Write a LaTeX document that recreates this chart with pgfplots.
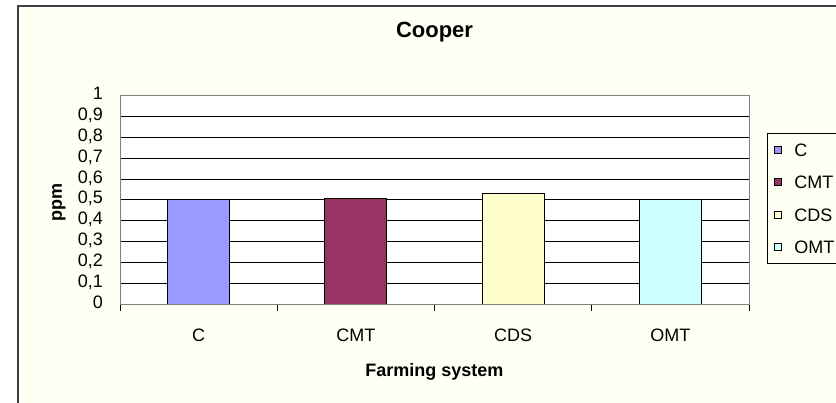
\documentclass[border=0pt]{standalone}
\usepackage{pgfplots}
\pgfplotsset{compat=1.18}
\usepackage{fontspec}
\setmainfont{Liberation Sans}
\definecolor{bg}{RGB}{255,255,244}
\definecolor{cC}{RGB}{153,153,255}
\definecolor{cCMT}{RGB}{153,51,102}
\definecolor{cCDS}{RGB}{255,255,204}
\definecolor{cOMT}{RGB}{204,255,255}
\definecolor{frame}{RGB}{64,64,64}
\begin{document}
\begin{tikzpicture}
\path[use as bounding box] (0,0) rectangle (836bp,403bp);
\clip (0,0) rectangle (836bp,403bp);
\fill[white] (0,0) rectangle (836bp,403bp);
\filldraw[fill=bg, draw=frame, line width=1.3bp] (18bp,-10bp) rectangle (870bp,397bp);
\begin{axis}[
  at={(120bp,99bp)}, anchor=south west,
  scale only axis, width=629bp, height=208bp,
  xmin=-0.5, xmax=3.5, ymin=0, ymax=1,
  ybar, bar width=62bp, bar shift=0pt,
  axis background/.style={fill=white},
  axis line style={draw=gray, line width=1bp},
  xtick={-0.5,0.5,1.5,2.5,3.5},
  xticklabels={C,CMT,CDS,OMT},
  x tick label as interval,
  xtick pos=bottom, ytick pos=left,
  tick align=outside,
  major tick length=7bp,
  xtick style={black, line width=1bp},
  ytick style={draw=none},
  ytick={0,0.1,0.2,0.3,0.4,0.5,0.6,0.7,0.8,0.9,1},
  ymajorgrids,
  grid style={black, line width=1bp},
  /pgf/number format/.cd, use comma, fixed, precision=1, assume math mode=true,
  /pgfplots/.cd,
  tick label style={font=\fontsize{18bp}{21bp}\selectfont},
  yticklabel style={anchor=base east, inner sep=0pt, xshift=-10bp, yshift=-4bp},
  xticklabel style={anchor=base, inner sep=0pt, yshift=-30bp},
  title={Cooper},
  title style={font=\fontsize{22bp}{26bp}\selectfont\bfseries, at={(axis description cs:0.5,1)}, anchor=base, inner sep=0pt, yshift=52.7bp},
  xlabel={Farming system},
  xlabel style={font=\fontsize{18bp}{21bp}\selectfont\bfseries, at={(axis description cs:0.5,0)}, anchor=base, inner sep=0pt, yshift=-72.7bp},
  ylabel={ppm},
  ylabel style={font=\fontsize{18bp}{21bp}\selectfont\bfseries, at={(axis description cs:-0.097,0.49)}, anchor=center, inner sep=0pt},
  legend image code/.code={\draw[#1, line width=0.8bp] (0bp,-3.5bp) rectangle (7bp,3.5bp);},
  legend cell align=left,
  legend style={at={(axis description cs:1.0286,0.822)}, anchor=north west, draw=black, line width=1bp, fill=bg,
    font=\fontsize{18bp}{21bp}\selectfont, inner xsep=7bp, inner ysep=10bp, row sep=19.3bp, column sep=12bp,
    nodes={inner sep=0pt, text height=13bp, text depth=0pt, anchor=west}},
]
\addplot[fill=cC, draw=black, line width=1bp, bar shift=0pt] coordinates {(0,0.50)};
\addplot[fill=cCMT, draw=black, line width=1bp, bar shift=0pt] coordinates {(1,0.508)};
\addplot[fill=cCDS, draw=black, line width=1bp, bar shift=0pt] coordinates {(2,0.53)};
\addplot[fill=cOMT, draw=black, line width=1bp, bar shift=0pt] coordinates {(3,0.50)};
\draw[black, line width=1bp] (axis cs:-0.5,0) -- (axis cs:3.5,0);
\legend{C,CMT,CDS,OMT}
\end{axis}
\end{tikzpicture}
\end{document}
